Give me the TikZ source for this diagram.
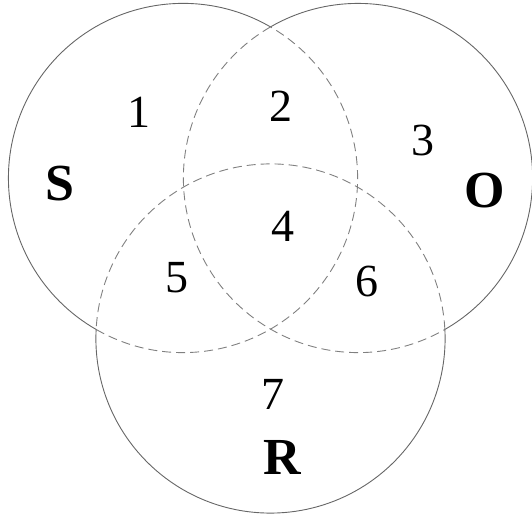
\documentclass[tikz,border=0pt]{standalone}
\usepackage{fontspec}
\setmainfont{Liberation Serif}
\usepackage{tikz}
\usetikzlibrary{calc}
\colorlet{rimA}{black!60}
\colorlet{rimB}{black!50}
\tikzset{
  outer/.style={rimA, line width=0.9pt},
  inner/.style={rimB, line width=0.9pt, dash pattern=on 9pt off 5pt},
  region/.style={inner sep=0pt, font=\fontsize{46}{50}\selectfont},
  setname/.style={inner sep=0pt, font=\fontsize{52}{56}\selectfont\bfseries}
}

\begin{document}
\begin{tikzpicture}[x=1pt, y=1pt]
      \useasboundingbox (0,0) rectangle (532,519);

      % common radius of the three sets
      \pgfmathsetmacro{\rr}{174.6}

      % centres
      \coordinate (cS) at (183,341);
      \coordinate (cO) at (358,341);
      \coordinate (cR) at (270.5,180.5);

      % S: solid outside O and R, dashed inside
      \draw[outer] ($(cS)+(59.9:\rr)$) arc[start angle=59.9, end angle=240.2, radius=\rr];
      \draw[inner] ($(cS)+(240.2:\rr)$) arc[start angle=240.2, end angle=419.9, radius=\rr];

      % O: solid outside S and R, dashed inside
      \draw[outer] ($(cO)+(-60.2:\rr)$) arc[start angle=-60.2, end angle=120.1, radius=\rr];
      \draw[inner] ($(cO)+(120.1:\rr)$) arc[start angle=120.1, end angle=299.8, radius=\rr];

      % R: solid at the bottom, dashed at the top
      \draw[outer] ($(cR)+(177:\rr)$) arc[start angle=177, end angle=363, radius=\rr];
      \draw[inner] ($(cR)+(3:\rr)$) arc[start angle=3, end angle=177, radius=\rr];

      % region numbers
      \node[region] (r1) at (139,407) {1};
      \node[region] (r2) at (281,413) {2};
      \node[region] (r3) at (423,378) {3};
      \node[region] (r4) at (283,293) {4};
      \node[region] (r5) at (177,241) {5};
      \node[region] (r6) at (367,238) {6};
      \node[region] (r7) at (273,125) {7};

      % set names
      \node[setname] (nS) at (60,335.5) {S};
      \node[setname] (nO) at (485,328.5) {O};
      \node[setname] (nR) at (282,61.5) {R};
    \end{tikzpicture}
\end{document}
